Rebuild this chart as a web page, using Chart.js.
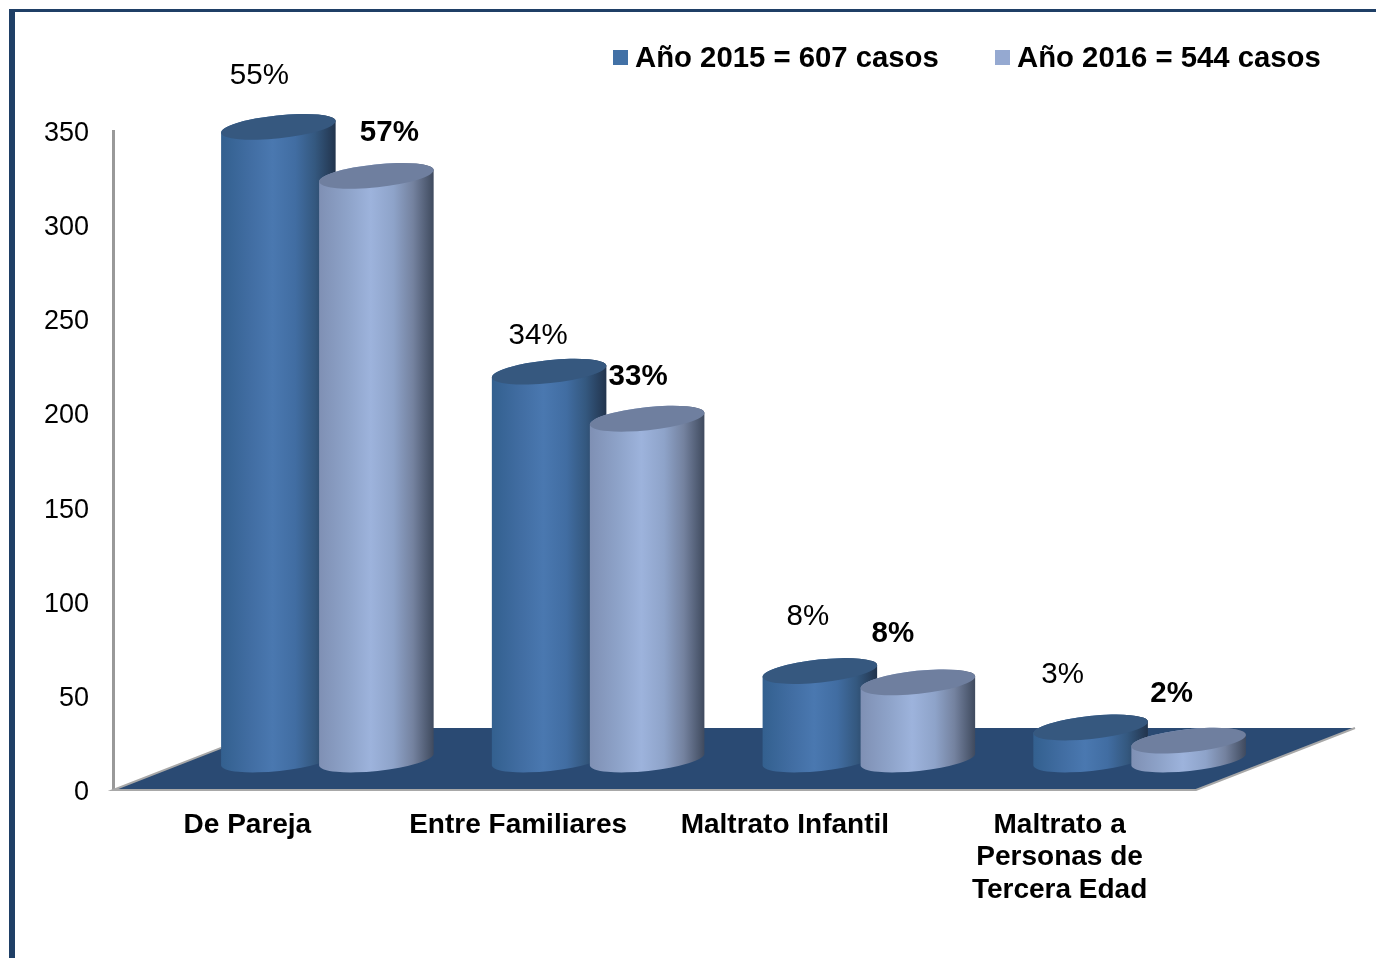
<!DOCTYPE html>
<html>
<head>
<meta charset="utf-8">
<title>Casos 2015 - 2016</title>
<script src="https://cdn.jsdelivr.net/npm/chart.js@4"></script>
<style>
    html, body { margin: 0; padding: 0; background: #fff; overflow: hidden; }
    #frame { position: absolute; left: 9px; top: 9px; width: 1400px; height: 1000px; border-top: 3px solid #1f3f66; border-left: 6px solid #1f3f66; }
    #chart { position: absolute; left: 0; top: 0; }
</style>
</head>
<body>
<div id="frame"></div>
<canvas id="chart" width="1376" height="958"></canvas>
<script>
// data:
const categories = ['De Pareja', 'Entre Familiares', 'Maltrato Infantil', ['Maltrato a', 'Personas de', 'Tercera Edad']];
const seriesNames = ['Año 2015 = 607 casos', 'Año 2016 = 544 casos'];
const values2015 = [336, 206, 47, 17];
const values2016 = [310, 181, 41, 10];
const percents2015 = ['55%', '34%', '8%', '3%'];
const percents2016 = ['57%', '33%', '8%', '2%'];

// how far the labels sit from the top of each cylinder:
const nudge2015 = [[-19, -51], [-11, -36], [-12, -54], [-28, -53]];
const nudge2016 = [[13, -43], [-9, -42], [-25, -48], [-17, -47]];
const xLabelShift = [-1, -1, -5, -1];

// look of the fake 3D:
const depthX = 79;
const depthY = -30.5;
const floorX = 159;
const floorY = -62;
const tilt = -6 * Math.PI / 180;
const looks = [
    { side: ['#33608f', '#416da2', '#4a78b0', '#416da2', '#34587f', '#22344d'], top: '#36587f', swatch: '#4271a6' },
    { side: ['#7f90b4', '#8ea3c9', '#9db3dc', '#8ea3c9', '#74829f', '#3f4a5e'], top: '#6f7f9f', swatch: '#95a9d1' }
];

// Floor goes under the bars:
const floorPlugin = {
    id: 'floor',
    beforeDatasetsDraw(chart) {
        const { ctx, chartArea } = chart;
        const { left, right, bottom } = chartArea;
        ctx.save();
        ctx.beginPath();
        ctx.moveTo(left, bottom);
        ctx.lineTo(right, bottom);
        ctx.lineTo(right + floorX, bottom + floorY);
        ctx.lineTo(left + floorX, bottom + floorY);
        ctx.closePath();
        ctx.fillStyle = '#2a4a73';
        ctx.fill();
        ctx.restore();

        // grey edge along the front and the sides
        ctx.save();
        ctx.beginPath();
        ctx.moveTo(left + floorX * 0.68, bottom + floorY * 0.68);
        ctx.lineTo(left, bottom);
        ctx.lineTo(right, bottom);
        ctx.lineTo(right + floorX, bottom + floorY);
        ctx.strokeStyle = '#a8a8a8';
        ctx.lineWidth = 2;
        ctx.stroke();
        ctx.restore();
    }
};

// One cylinder on top of a bar element:
function drawCylinder(ctx, bar, look) {
    const cx = bar.x + depthX;
    const top = bar.y + depthY;
    const base = bar.base + depthY;
    const rx = bar.width * 1.175 / 2;
    const ry = 11.5;
    const tipX = rx * Math.cos(tilt);
    const tipY = rx * Math.sin(tilt);

    const grad = ctx.createLinearGradient(cx - tipX, 0, cx + tipX, 0);
    look.side.forEach((c, i) => {
        const stops = [0, 0.25, 0.45, 0.65, 0.82, 1];
        grad.addColorStop(stops[i], c);
    });

    ctx.beginPath();
    ctx.moveTo(cx - tipX, top - tipY);
    ctx.lineTo(cx - tipX, base - tipY);
    ctx.ellipse(cx, base, rx, ry, tilt, Math.PI, 0, true);
    ctx.lineTo(cx + tipX, top + tipY);
    ctx.ellipse(cx, top, rx, ry, tilt, 0, Math.PI, true);
    ctx.closePath();
    ctx.fillStyle = grad;
    ctx.fill();

    ctx.beginPath();
    ctx.ellipse(cx, top, rx, ry, tilt, 0, Math.PI * 2);
    ctx.fillStyle = look.top;
    ctx.fill();
}

const cylinderPlugin = {
    id: 'cylinders',
    afterDatasetsDraw(chart) {
        const ctx = chart.ctx;
        const percents = [percents2015, percents2016];
        const nudges = [nudge2015, nudge2016];
        ctx.save();
        chart.data.datasets.forEach((ds, d) => {
            chart.getDatasetMeta(d).data.forEach((bar, i) => {
                drawCylinder(ctx, bar, looks[d]);
            });
        });

        // percent labels, 2016 ones are bold
        ctx.fillStyle = '#000';
        ctx.textAlign = 'center';
        ctx.textBaseline = 'middle';
        chart.data.datasets.forEach((ds, d) => {
            ctx.font = (d === 1 ? 'bold ' : '') + '29.5px "Liberation Sans", Arial, sans-serif';
            chart.getDatasetMeta(d).data.forEach((bar, i) => {
                ctx.fillText(percents[d][i], bar.x + depthX + nudges[d][i][0], bar.y + depthY + nudges[d][i][1]);
            });
        });
        ctx.restore();
    }
};

// Legend sits outside the plot so draw it by hand:
const legendPlugin = {
    id: 'topLegend',
    afterDraw(chart) {
        const ctx = chart.ctx;
        const starts = [613, 995];
        ctx.save();
        ctx.font = 'bold 29.3px "Liberation Sans", Arial, sans-serif';
        ctx.textAlign = 'left';
        ctx.textBaseline = 'middle';
        seriesNames.forEach((name, i) => {
            ctx.fillStyle = looks[i].swatch;
            ctx.fillRect(starts[i], 50, 15, 15);
            ctx.fillStyle = '#000';
            ctx.fillText(name, starts[i] + 22, 59);
        });
        ctx.restore();
    }
};

// Small corrections to where the library puts the tick labels:
const tickShiftPlugin = {
    id: 'tickShift',
    afterLayout(chart) {
        chart.scales.y.getLabelItems().forEach(item => {
            item.options.translation[1] += 2.5;
        });
        chart.scales.x.getLabelItems().forEach((item, i) => {
            item.options.translation[0] += xLabelShift[i];
        });
    }
};

new Chart(document.getElementById('chart'), {
    type: 'bar',
    data: {
        labels: categories,
        datasets: [
            { label: seriesNames[0], data: values2015, backgroundColor: 'transparent' },
            { label: seriesNames[1], data: values2016, backgroundColor: 'transparent' }
        ]
    },
    plugins: [floorPlugin, cylinderPlugin, legendPlugin, tickShiftPlugin],
    options: {
        responsive: false,
        animation: false,
        devicePixelRatio: 1,
        layout: { padding: { top: 131, right: 180, bottom: 0, left: 0 } },
        datasets: { bar: { categoryPercentage: 0.724, barPercentage: 1 } },
        plugins: { legend: { display: false }, tooltip: { enabled: false } },
        scales: {
            x: {
                grid: { display: false },
                border: { display: false },
                afterFit: s => { s.height = 168; },
                ticks: {
                    color: '#000',
                    padding: 11,
                    maxRotation: 0,
                    autoSkip: false,
                    font: { family: '"Liberation Sans", Arial, sans-serif', size: 28, weight: 'bold', lineHeight: 1.16 }
                }
            },
            y: {
                min: 0,
                max: 350,
                grid: { display: false },
                border: { color: '#999999', width: 3 },
                afterFit: s => { s.width = 113; },
                ticks: {
                    stepSize: 50,
                    color: '#000',
                    padding: 16,
                    font: { family: '"Liberation Sans", Arial, sans-serif', size: 27 }
                }
            }
        }
    }
});
</script>
</body>
</html>
